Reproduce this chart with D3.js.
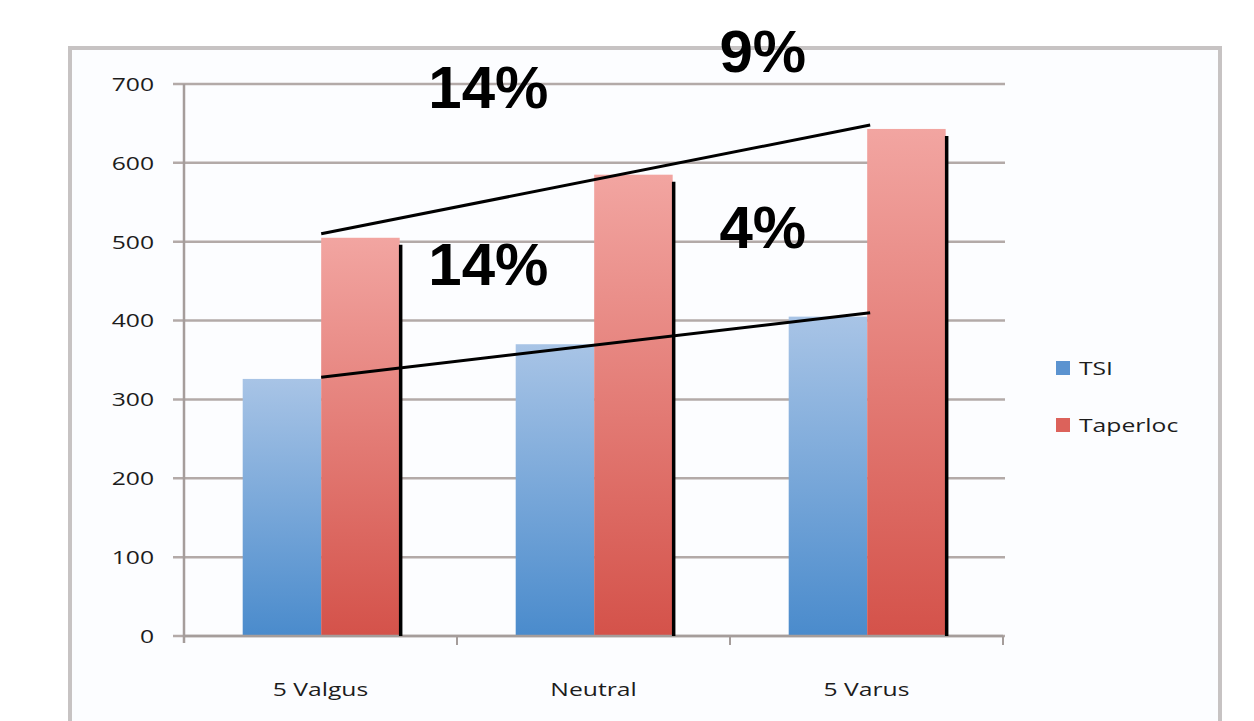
<!DOCTYPE html>
<html><head><meta charset="utf-8">
<script src="https://cdn.jsdelivr.net/npm/d3@7"></script>
<style>html,body{margin:0;padding:0;background:#fff;}svg{display:block;}</style>
</head><body>
<svg id="c" width="1254" height="721"></svg>
<script>
const categories = ["5 Valgus", "Neutral", "5 Varus"];
const seriesNames = ["TSI", "Taperloc"];
const tsiValues = [326, 370, 405];
const taperlocValues = [505, 585, 643];
const yTicks = [0, 100, 200, 300, 400, 500, 600, 700];
// trend annotations: from category index to category index, start/end value, drawn at Taperloc left edge
const trendFrom = [0, 0];
const trendTo = [2, 2];
const trendStart = [510, 328];
const trendEnd = [648, 410];
// percent annotations at fractional category positions
const pctText = ["14%", "9%", "14%", "4%"];
const pctPos = [0.615, 1.62, 0.615, 1.62];
const pctValue = [669, 715, 445, 492];

const svg = d3.select("#c");
const defs = svg.append("defs");
function grad(id, c0, c1){
  const g = defs.append("linearGradient").attr("id", id).attr("x1",0).attr("y1",0).attr("x2",0).attr("y2",1);
  g.append("stop").attr("offset","0%").attr("stop-color",c0);
  g.append("stop").attr("offset","100%").attr("stop-color",c1);
}
grad("gBlue", "#a8c4e6", "#4a8bcc");
grad("gRed", "#f2a5a1", "#d4524a");

const FONT = "Open Sans, Liberation Sans, sans-serif";
const SX = 1.3;
const FS = 19;

// frame
svg.append("rect").attr("x",70).attr("y",48).attr("width",1150).attr("height",720)
  .attr("fill","#fcfdff").attr("stroke","#c7c3c3").attr("stroke-width",4);

const x0 = 184, x1 = 1003, yTop = 84, yBot = 636;
const y = d3.scaleLinear().domain([0,700]).range([yBot, yTop]);
const x = d3.scaleBand().domain(categories).range([x0, x1]).padding(0);
const bw = x.bandwidth();
const inner = d3.scaleBand().domain(seriesNames).range([bw*0.215, bw*0.79]).padding(0);
const catIdx = d3.scaleLinear().domain([0, 1]).range([x(categories[0]) + bw/2, x(categories[1]) + bw/2]);

const lineColor = "#b3aaa8";
// gridlines
svg.append("g").selectAll("line").data(yTicks).join("line")
  .attr("x1", x0 - 11).attr("x2", x1 + 2)
  .attr("y1", d => y(d)).attr("y2", d => y(d))
  .attr("stroke", lineColor).attr("stroke-width", 2.5);

// y axis labels
svg.append("g").selectAll("text").data(yTicks).join("text")
  .attr("transform", d => `translate(${x0 - 30},${y(d)}) scale(${SX},1)`)
  .attr("text-anchor","end").attr("dy","0.36em")
  .attr("font-family", FONT).attr("font-size", FS).attr("fill","#1c1c1c")
  .text(d => d);

// y axis line
svg.append("line").attr("x1",x0).attr("x2",x0).attr("y1",yTop).attr("y2",yBot+7)
  .attr("stroke","#a59d9b").attr("stroke-width",2.5);

// bars
const data = categories.map((c,i) => ({cat:c, vals:[{s:"TSI", v:tsiValues[i]},{s:"Taperloc", v:taperlocValues[i]}]}));
const groups = svg.append("g").selectAll("g").data(data).join("g")
  .attr("transform", d => `translate(${x(d.cat)},0)`);
groups.selectAll("rect").data(d => d.vals).join("rect")
  .attr("x", d => inner(d.s)).attr("width", inner.bandwidth())
  .attr("y", d => y(d.v)).attr("height", d => y(0) - y(d.v))
  .attr("fill", d => d.s === "TSI" ? "url(#gBlue)" : "url(#gRed)");

// x axis
svg.append("line").attr("x1",x0).attr("x2",x1).attr("y1",yBot).attr("y2",yBot)
  .attr("stroke","#a59d9b").attr("stroke-width",2.5);
svg.append("g").selectAll("line").data(categories).join("line")
  .attr("x1", d => x(d) + bw).attr("x2", d => x(d) + bw)
  .attr("y1", yBot).attr("y2", yBot + 9)
  .attr("stroke","#a59d9b").attr("stroke-width",2);
svg.append("g").selectAll("text").data(categories).join("text")
  .attr("transform", d => `translate(${x(d) + bw/2},${yBot + 53}) scale(${SX},1)`)
  .attr("text-anchor","middle").attr("dy","0.36em")
  .attr("font-family", FONT).attr("font-size", FS).attr("fill","#1c1c1c")
  .text(d => d);

// vertical black lines at right edge of Taperloc bars
svg.append("g").selectAll("line").data(data).join("line")
  .attr("x1", d => x(d.cat) + inner("Taperloc") + inner.bandwidth() + 1)
  .attr("x2", d => x(d.cat) + inner("Taperloc") + inner.bandwidth() + 1)
  .attr("y1", d => y(d.vals[1].v) + 7).attr("y2", yBot)
  .attr("stroke","#000").attr("stroke-width",3.5);

// trend lines
svg.append("g").selectAll("line").data(trendFrom.map((f,i)=>i)).join("line")
  .attr("x1", i => x(categories[trendFrom[i]]) + inner("Taperloc"))
  .attr("x2", i => x(categories[trendTo[i]]) + inner("Taperloc") + 3)
  .attr("y1", i => y(trendStart[i])).attr("y2", i => y(trendEnd[i]))
  .attr("stroke","#000").attr("stroke-width",3);

// percent labels
svg.append("g").selectAll("text").data(pctText).join("text")
  .attr("x", (d,i) => catIdx(pctPos[i])).attr("y", (d,i) => y(pctValue[i]))
  .attr("text-anchor","middle")
  .attr("font-family","Liberation Sans, Arial, sans-serif").attr("font-weight","bold")
  .attr("font-size", 60).attr("fill","#000").text(d => d);

// legend
const legColors = ["#5b93d0", "#dc625b"];
const leg = svg.append("g").selectAll("g").data(seriesNames).join("g")
  .attr("transform", (d,i) => `translate(1056,${361 + i*57})`);
leg.append("rect").attr("width",14).attr("height",14).attr("fill",(d,i)=>legColors[i]);
leg.append("text").attr("transform", `translate(23,7) scale(${SX},1)`).attr("dy","0.36em")
  .attr("font-family", FONT).attr("font-size",FS).attr("fill","#1c1c1c").text(d => d);
</script>
</body></html>
